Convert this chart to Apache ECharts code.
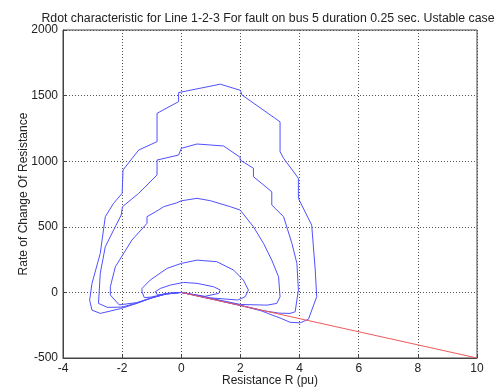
<!DOCTYPE html>
<html><head><meta charset="utf-8">
<script src="https://cdn.jsdelivr.net/npm/echarts@6/dist/echarts.min.js"></script>
<style>html,body{margin:0;padding:0;background:#fff}#c{width:500px;height:392px}</style>
</head><body><div id="c"></div>
<script>
const titleText = 'Rdot characteristic for Line 1-2-3 For fault on bus 5 duration 0.25 sec. Ustable case';
const xName = 'Resistance R (pu)';
const yName = 'Rate of Change Of Resistance';

const loop1 = [[0,0],[1,-50],[2,-100],[2.7,-140],[3.1,-175],[3.34,-195],[3.68,-228],[4.02,-232],[4.3,-205],[4.58,-33],[4.53,170],[4.41,513],[3.96,717],[3.96,870],[3.46,1022],[3.34,1073],[3.34,1300],[2.05,1505],[2.0,1540],[1.32,1587],[-0.09,1523],[-0.09,1454],[-0.82,1365],[-0.82,1149],[-1.44,1085],[-1.97,933],[-2.0,755],[-2.29,679],[-2.57,577],[-2.74,297],[-3.02,68],[-3.10,-59],[-3.02,-135],[-2.74,-160],[-2.06,-124],[-1.5,-84],[-1.05,-46],[-0.6,-15],[0,0]];
const loop2 = [[0,0],[1,-48],[2,-98],[2.8,-140],[3.3,-158],[3.68,-160],[3.85,-148],[3.96,18],[3.91,221],[3.74,374],[3.46,577],[3.06,666],[3.06,767],[2.44,882],[2.44,946],[1.99,1009],[1.99,1030],[1.43,1116],[0.53,1131],[0,1098],[-0.09,1047],[-0.82,1009],[-0.82,895],[-1.44,755],[-1.99,653],[-2.03,590],[-2.29,475],[-2.57,348],[-2.74,145],[-2.8,-84],[-2.5,-114],[-2.0,-112],[-1.5,-80],[-1.0,-42],[-0.5,-12],[0,0]];
const loop3 = [[0,0],[1,-45],[2,-92],[2.9,-97],[3.23,-84],[3.34,-33],[3.29,119],[3.06,246],[2.78,374],[2.44,500],[1.99,628],[1.66,653],[0.98,699],[0.53,717],[0,698],[-0.15,683],[-0.6,653],[-0.77,628],[-1.16,577],[-1.16,526],[-1.67,399],[-2.23,195],[-2.40,43],[-2.4,-20],[-2.1,-95],[-1.5,-78],[-1.0,-40],[-0.5,-12],[0,0]];
const loop4 = [[0,0],[1,-42],[1.91,-58],[2.16,-33],[2.27,18],[2.1,94],[1.77,170],[1.2,234],[0.53,246],[0,221],[-0.48,183],[-1.05,94],[-1.33,30],[-1.33,5],[-1.25,-40],[-1.0,-35],[-0.5,-8],[0,0]];
const loop5 = [[0,0],[0.8,-30],[1.26,-8],[1.32,18],[1.09,43],[0.53,69],[0.08,76],[-0.37,56],[-0.71,30],[-0.88,5],[-0.8,-20],[-0.4,-6],[0,0]];
const redLine = [[0,0],[10,-500]];

const blueLoops = [loop1, loop2, loop3, loop4, loop5];
const txt = '#222';
const ff = 'Liberation Sans, Arial, sans-serif';
const chart = echarts.init(document.getElementById('c'));
const series = blueLoops.map(d => ({
  type: 'line', data: d, showSymbol: false, symbol: 'none',
  lineStyle: {color: '#5050ff', width: 1}, animation: false
}));
series.push({type: 'line', data: redLine, showSymbol: false, symbol: 'none',
  lineStyle: {color: '#f05a5a', width: 1}, animation: false});
chart.setOption({
  animation: false,
  title: {text: titleText, left: 263, top: 8, textAlign: 'center',
    textStyle: {fontSize: 12.3, fontWeight: 'normal', color: txt, fontFamily: ff}},
  grid: {left: 63, right: 23, top: 30, bottom: 34, outerBoundsMode: 'none', containLabel: false,
    show: true, borderColor: '#444', borderWidth: 1, backgroundColor: '#fff'},
  xAxis: {type: 'value', min: -4, max: 10, interval: 2, name: xName, nameLocation: 'middle', nameGap: 17,
    nameMoveOverlap: false,
    nameTextStyle: {fontSize: 12, color: txt, fontFamily: ff},
    axisLine: {show: true, onZero: false, lineStyle: {color: '#444'}},
    axisTick: {show: true, inside: true, length: 4, lineStyle: {color: '#444'}},
    axisLabel: {fontSize: 12, color: txt, margin: 5, fontFamily: ff, formatter: v => String(v)},
    splitLine: {show: true, lineStyle: {type: [1, 2], color: '#555', width: 1}}},
  yAxis: {type: 'value', min: -500, max: 2000, interval: 500, name: yName, nameLocation: 'middle', nameGap: 33,
    nameMoveOverlap: false,
    nameTextStyle: {fontSize: 12, color: txt, fontFamily: ff},
    axisLine: {show: true, onZero: false, lineStyle: {color: '#444'}},
    axisTick: {show: true, inside: true, length: 4, lineStyle: {color: '#444'}},
    axisLabel: {fontSize: 12, color: txt, margin: 5, fontFamily: ff, formatter: v => String(v)},
    splitLine: {show: true, lineStyle: {type: [1, 2], color: '#555', width: 1}}},
  series: series
});
</script></body></html>
